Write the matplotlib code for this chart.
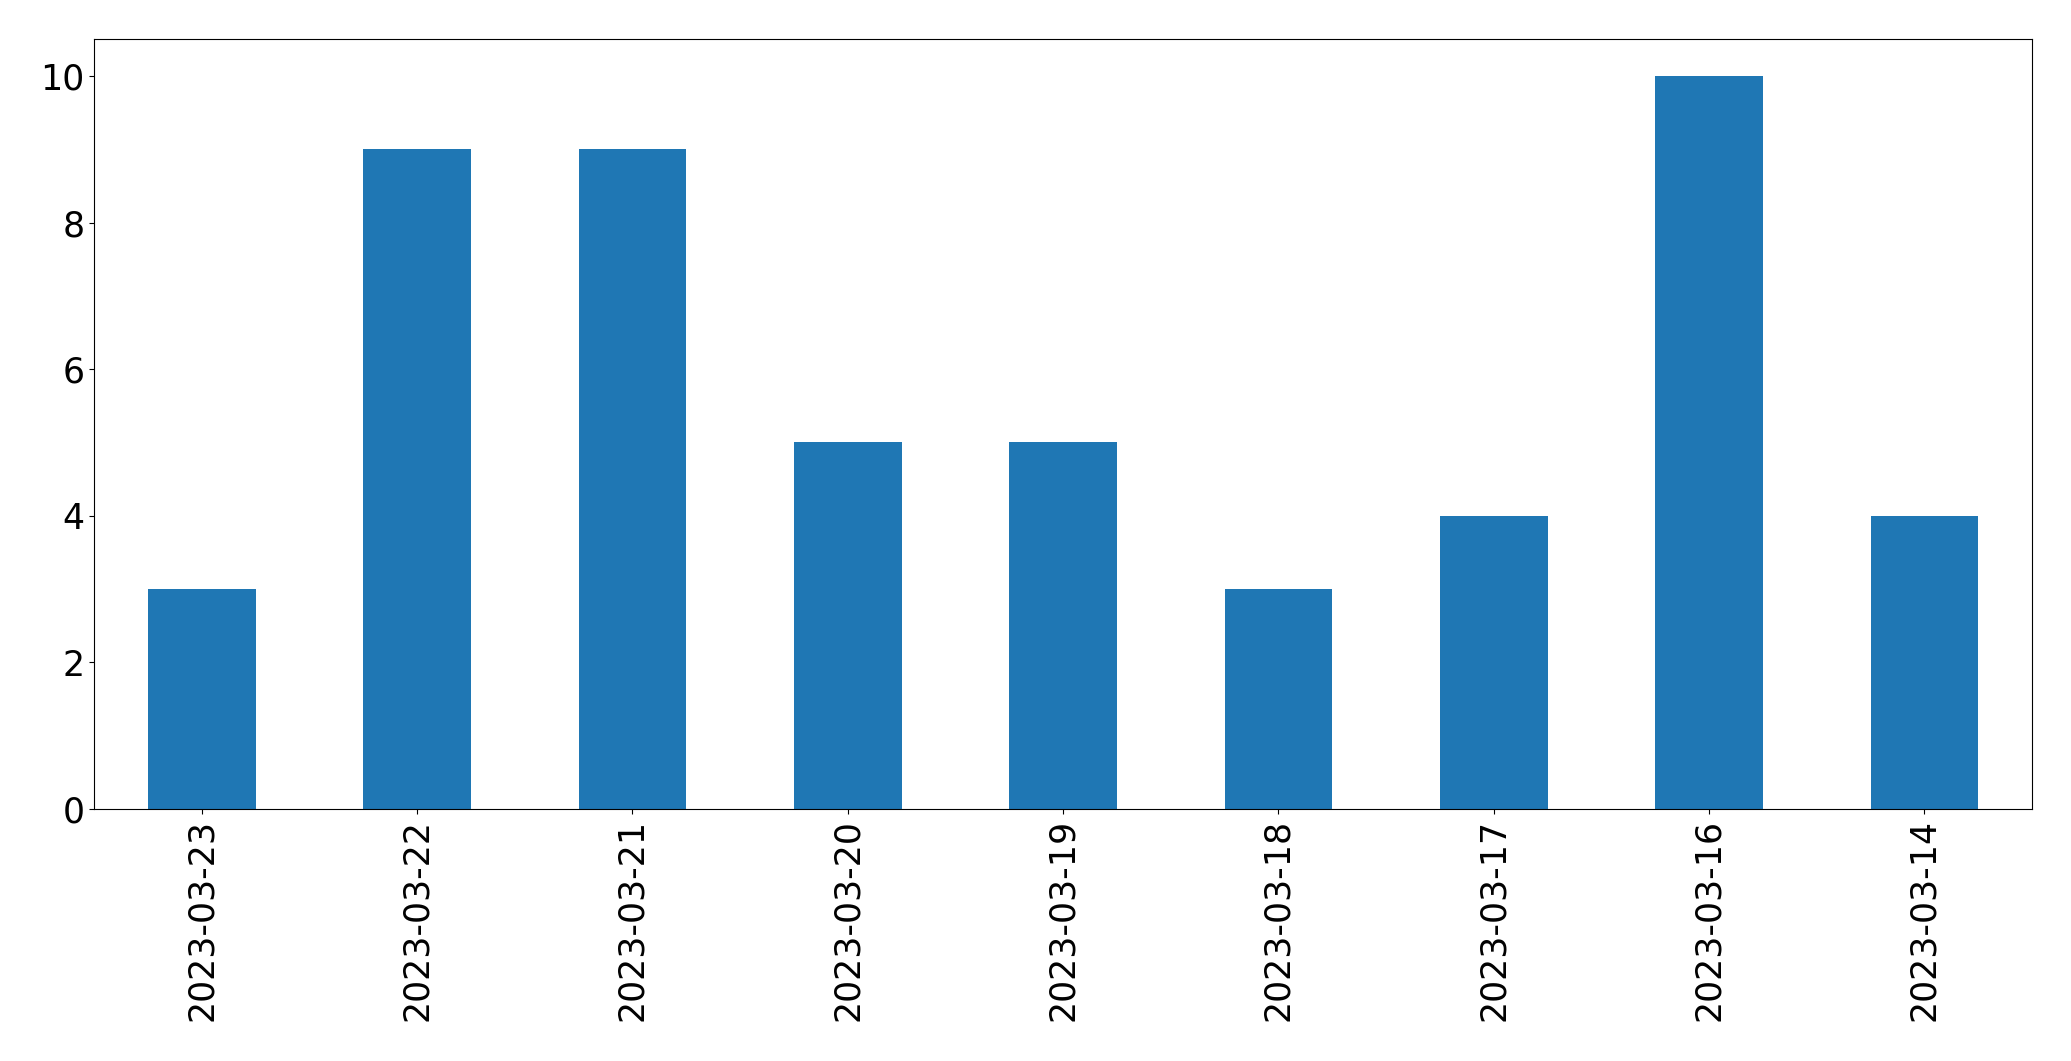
import matplotlib
matplotlib.use("Agg")
import matplotlib.pyplot as plt
import numpy as np

dates = ["2023-03-23", "2023-03-22", "2023-03-21", "2023-03-20", "2023-03-19",
         "2023-03-18", "2023-03-17", "2023-03-16", "2023-03-14"]
counts = [3, 9, 9, 5, 5, 3, 4, 10, 4]

fig = plt.figure(figsize=(20.71, 10.61), dpi=100)
ax = fig.add_axes([0.0454, 0.2375, 0.9358, 0.7255])

x = np.arange(len(dates))
ax.bar(x, counts, width=0.5, color="#1f77b4")
ax.set_xlim(-0.5, len(dates) - 0.5)
ax.set_ylim(0, 10.5)
ax.set_xticks(x)
ax.set_xticklabels(dates, rotation=90)
ax.tick_params(labelsize=25)

fig.savefig("out.png", dpi=100)
